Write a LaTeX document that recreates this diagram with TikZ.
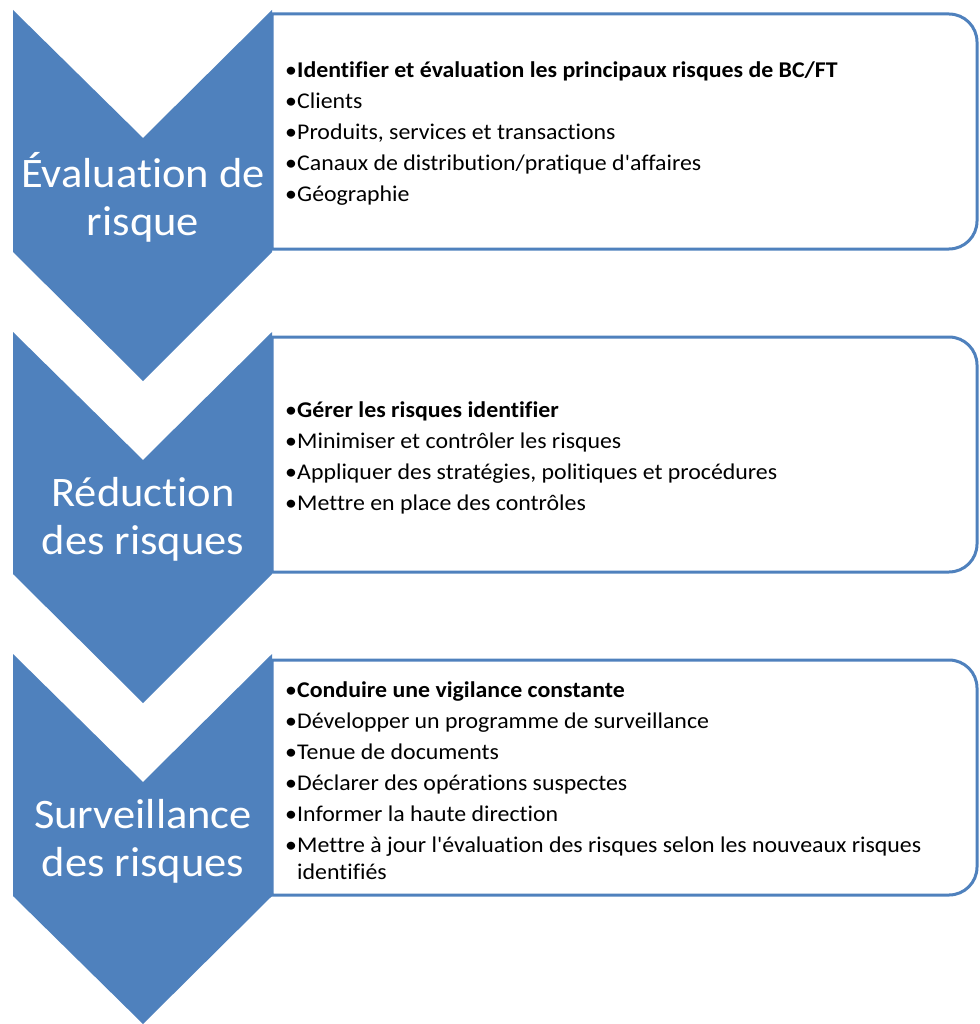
\documentclass[tikz,border=0pt]{standalone}
\usepackage{fontspec}
\setmainfont{Carlito}[Ligatures={TeXOff,CommonOff}, FakeStretch=1.06]

\definecolor{chevblue}{HTML}{4F81BD}

\tikzset{
  chevron/.style={fill=chevblue},
  listbox/.style={draw=chevblue, line width=3pt, fill=white},
  stagetext/.style={text=white, align=center, font=\fontsize{42}{48}\selectfont},
  itemtext/.style={anchor=west, align=left, inner sep=0pt, font=\fontsize{22.5}{27}\selectfont}
}
\newcommand{\itm}{\makebox[12pt][l]{•}}

\begin{document}
\begin{tikzpicture}[x=1pt,y=-1pt]
\useasboundingbox (0,0) rectangle (979,1024);

\def\firstbox{(272,14) [rounded corners=28pt] -- (977,14) -- (977,249) [sharp corners] -- (272,249) -- cycle}
\def\secondbox{(272,337) [rounded corners=28pt] -- (977,337) -- (977,572) [sharp corners] -- (272,572) -- cycle}
\def\thirdbox{(272,660) [rounded corners=28pt] -- (977,660) -- (977,895) [sharp corners] -- (272,895) -- cycle}

\def\firstchevron{(13,10) -- (143,138) -- (272,10) -- (272,252) -- (143,381) -- (13,252) -- cycle}
\def\secondchevron{(13,332) -- (143,460) -- (272,332) -- (272,574) -- (143,703) -- (13,574) -- cycle}
\def\thirdchevron{(13,654) -- (143,782) -- (272,654) -- (272,896) -- (143,1024) -- (13,896) -- cycle}

\draw[listbox] \firstbox;
\draw[listbox] \secondbox;
\draw[listbox] \thirdbox;

\fill[chevron] \firstchevron;
\fill[chevron] \secondchevron;
\fill[chevron] \thirdchevron;

\node[stagetext] (evaluation) at (143,197) {Évaluation de\\risque};
\node[stagetext] (reduction) at (143,519) {Réduction\\des risques};
\node[stagetext] (surveillance) at (143,841) {Surveillance\\des risques};

\node[itemtext] (evallist) at (285,134) {%
\itm\textbf{Identifier et évaluation les principaux risques de BC/FT}\\[4pt]
\itm Clients\\[4pt]
\itm Produits, services et transactions\\[4pt]
\itm Canaux de distribution/pratique d'affaires\\[4pt]
\itm Géographie};

\node[itemtext] (redlist) at (285,458) {%
\itm\textbf{Gérer les risques identifier}\\[4pt]
\itm Minimiser et contrôler les risques\\[4pt]
\itm Appliquer des stratégies, politiques et procédures\\[4pt]
\itm Mettre en place des contrôles};

\node[itemtext] (survlist) at (285,781) {%
\itm\textbf{Conduire une vigilance constante}\\[4pt]
\itm Développer un programme de surveillance\\[4pt]
\itm Tenue de documents\\[4pt]
\itm Déclarer des opérations suspectes\\[4pt]
\itm Informer la haute direction\\[4pt]
\itm Mettre à jour l'évaluation des risques selon les nouveaux risques\\
\hspace*{12pt}identifiés};

\end{tikzpicture}
\end{document}
